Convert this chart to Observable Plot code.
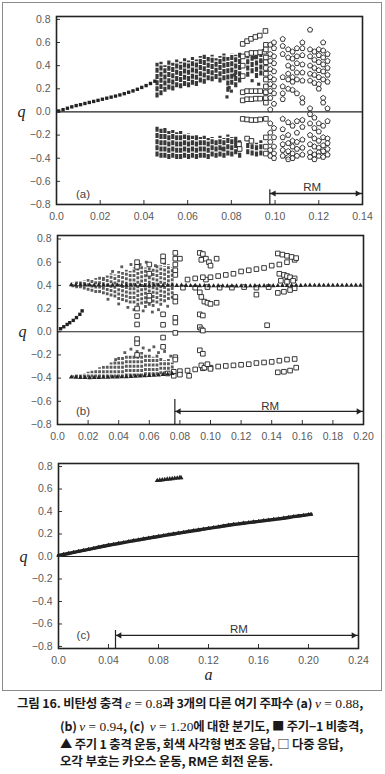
<!DOCTYPE html>
<html><head><meta charset="utf-8">
<script src="https://cdn.jsdelivr.net/npm/d3@7"></script>
<script src="https://cdn.jsdelivr.net/npm/@observablehq/plot@0.6"></script>
<style>
body{margin:0;background:#fff;}
#wrap{position:relative;width:385px;height:774px;overflow:hidden;}
#box{position:absolute;left:2px;top:2px;width:378px;height:687px;border:1px solid #8a8a8a;z-index:3;}
.panel{position:absolute;left:0;}
#cap{position:absolute;left:0;top:0;width:385px;font-family:"Noto Sans CJK KR",sans-serif;font-weight:700;font-size:12px;color:#1a1a1a;letter-spacing:-0.2px;}
#cap div{position:absolute;white-space:nowrap;line-height:16px;transform-origin:0 50%;}
#cap .m{font-family:"Liberation Serif","DejaVu Serif",serif;font-weight:400;letter-spacing:0;font-size:13px;}
</style></head><body>
<div id="wrap">
<div id="pa" class="panel" style="top:0px"></div>
<div id="pb" class="panel" style="top:225px"></div>
<div id="pc" class="panel" style="top:452px"></div>
<div id="box"></div>
<div id="cap">
<div class="cl" style="left:17px;top:695px">그림 16. 비탄성 충격 <span class="m"><i>e</i> = 0.8</span>과 3개의 다른 여기 주파수 (a) <span class="m"><i>ν</i> = 0.88</span>,</div>
<div class="cl" style="left:60px;top:718px">(b) <span class="m"><i>ν</i> = 0.94</span>, (c) &nbsp;<span class="m"><i>ν</i> = 1.20</span>에 대한 분기도, ■ 주기−1 비충격,</div>
<div class="cl" style="left:60px;top:735.5px">▲ 주기 1 충격 운동, 회색 사각형 변조 응답, □ 다중 응답,</div>
<div class="cl" style="left:60px;top:753px">오각 부호는 카오스 운동, RM은 회전 운동.</div>
</div>
</div>
<script>
// ---------- tick labels ----------
const yTicks = [-0.8,-0.6,-0.4,-0.2,0,0.2,0.4,0.6,0.8];
const yLab = ["−0.8","−0.6","−0.4","−0.2","0.0","0.2","0.4","0.6","0.8"];
const xTicksA = [0,0.02,0.04,0.06,0.08,0.10,0.12,0.14];
const xLabA = ["0.0","0.02","0.04","0.06","0.08","0.10","0.12","0.14"];
const xTicksB = [0,0.02,0.04,0.06,0.08,0.10,0.12,0.14,0.16,0.18,0.20];
const xLabB = ["0.0","0.02","0.04","0.06","0.08","0.10","0.12","0.14","0.16","0.18","0.20"];
const xTicksC = [0,0.04,0.08,0.12,0.16,0.20,0.24];
const xLabC = ["0.0","0.04","0.08","0.12","0.16","0.20","0.24"];

// ---------- panel (a), nu = 0.88 ----------
const nonImpactA = [[0.001,0.008],[0.003,0.020],[0.005,0.032],[0.007,0.044],[0.009,0.055],[0.011,0.063],[0.013,0.073],[0.015,0.082],[0.017,0.091],[0.019,0.100],[0.021,0.110],[0.023,0.119],[0.025,0.128],[0.027,0.137],[0.029,0.147],[0.031,0.158],[0.033,0.170],[0.035,0.182],[0.037,0.196],[0.039,0.212],[0.041,0.228],[0.043,0.246],[0.045,0.266]];
const modA_a = [0.0460,0.0478,0.0496,0.0514,0.0532,0.0550,0.0568,0.0586,0.0604,0.0622,0.0640,0.0658,0.0676,0.0694,0.0712,0.0730,0.0748,0.0766,0.0784,0.0802,0.0820,0.0838,0.0875,0.0895,0.0915,0.0935];
const modA_posHi = [0.42,0.43,0.40,0.44,0.42,0.45,0.43,0.46,0.44,0.47,0.45,0.48,0.49,0.47,0.49,0.46,0.48,0.50,0.47,0.50,0.49,0.51,0.47,0.50,0.49,0.50];
const modA_posLo = [0.12,0.14,0.17,0.19,0.18,0.21,0.20,0.22,0.21,0.23,0.22,0.25,0.24,0.27,0.26,0.28,0.25,0.27,0.17,0.23,0.21,0.25,0.30,0.33,0.29,0.31];
const modA_negHi = [-0.13,-0.15,-0.14,-0.17,-0.16,-0.18,-0.17,-0.20,-0.19,-0.21,-0.20,-0.22,-0.21,-0.23,-0.22,-0.24,-0.21,-0.23,-0.20,-0.22,-0.21,-0.24,-0.26,-0.24,-0.27,-0.25];
const modA_negLo = [-0.39,-0.40,-0.40,-0.41,-0.40,-0.41,-0.41,-0.40,-0.41,-0.40,-0.41,-0.40,-0.40,-0.41,-0.39,-0.40,-0.39,-0.40,-0.38,-0.39,-0.37,-0.40,-0.37,-0.38,-0.39,-0.38];
const modA_dots = [[0.0800,0.18],[0.0790,0.21],[0.0815,0.32],[0.0780,0.13],[0.0820,-0.26],[0.0760,-0.32],[0.0895,0.27],[0.0925,0.24],[0.0905,0.47],[0.0935,0.44]];
const multA = [[0.0852,0.588],[0.0872,0.612],[0.0890,0.632],[0.0910,0.648],[0.0930,0.660],[0.0956,0.700],
[0.0872,0.500],[0.0892,0.510],[0.0912,0.510],[0.0932,0.515],[0.0952,0.520],
[0.0958,0.580],[0.0958,0.540],[0.0958,0.470],[0.0958,0.430],[0.0958,0.380],[0.0958,0.330],[0.0958,0.280],[0.0958,0.220],[0.0958,0.170],[0.0958,0.120],[0.0958,0.080],
[0.0852,0.480],[0.0852,0.400],[0.0852,0.310],
[0.0852,0.170],[0.0872,0.180],[0.0892,0.180],[0.0912,0.180],[0.0932,0.180],
[0.0852,0.100],[0.0872,0.110],[0.0892,0.110],[0.0912,0.115],[0.0932,0.115],
[0.0852,-0.060],[0.0872,-0.065],[0.0892,-0.070],[0.0912,-0.070],[0.0932,-0.065],[0.0958,-0.060],
[0.0835,-0.280],[0.0838,-0.320],[0.0872,-0.230],[0.0892,-0.250],[0.0958,-0.220],[0.0958,-0.300],[0.0958,-0.360]];
const chaosA_a = [0.0978,0.0995,0.1035,0.1060,0.1080,0.1100,0.1125,0.1160,0.1180,0.1200,0.1220,0.1240];
const chaosA_q = [
[0.02,0.58,0.50,0.44,0.37,0.30,0.24,0.18,0.12,-0.10,-0.18,-0.26,-0.33,-0.38],
[0.60,0.55,0.48,0.42,0.35,0.28,0.22,0.16,0.07,-0.14,-0.22,-0.30,-0.36,-0.40],
[0.63,0.57,0.50,0.30,0.22,0.16,0.11,-0.06,-0.15,-0.22,-0.28,-0.33,-0.38],
[0.54,0.47,0.40,0.33,0.28,0.20,-0.09,-0.20,-0.27,-0.34,-0.39,-0.41],
[0.52,0.46,0.38,0.30,0.26,0.19,-0.12,-0.25,-0.30,-0.36,-0.40],
[0.55,0.48,0.42,0.34,0.28,0.16,-0.08,-0.18,-0.26,-0.32,-0.38],
[0.60,0.55,0.49,0.41,0.34,0.27,0.12,0.08,-0.07,-0.13,-0.24,-0.31,-0.37],
[0.71,0.54,0.48,0.40,0.33,0.27,0.03,-0.02,-0.10,-0.20,-0.28,-0.35,-0.39],
[0.52,0.45,0.38,0.32,0.25,-0.05,-0.14,-0.23,-0.30,-0.37,-0.41],
[0.54,0.49,0.43,0.36,0.30,0.24,0.20,-0.10,-0.17,-0.25,-0.31,-0.35,-0.38],
[0.60,0.53,0.47,0.41,0.35,0.28,0.12,0.08,-0.12,-0.22,-0.29,-0.34,-0.39],
[0.50,0.44,0.38,0.32,0.26,0.03,-0.08,-0.23,-0.27,-0.32,-0.37]];

// ---------- panel (b), nu = 0.94 ----------
const nonImpactB = [[0.0020,0.026],[0.0041,0.043],[0.0063,0.063],[0.0080,0.078],[0.0103,0.098],[0.0124,0.122],[0.0146,0.150],[0.0161,0.180]];
const impactB = [[0.009,0.404],[0.012,0.403],[0.015,0.404],[0.018,0.402],[0.021,0.403],[0.024,0.401],[0.027,0.402],[0.030,0.400],[0.033,0.401],[0.036,0.400],[0.039,0.402],[0.042,0.399],[0.045,0.401],[0.048,0.400],[0.051,0.399],[0.054,0.401],[0.057,0.398],[0.060,0.400],[0.063,0.399],[0.066,0.401],[0.069,0.398],[0.072,0.400],[0.075,0.399],[0.078,0.398],[0.081,0.400],[0.084,0.398],[0.087,0.397],[0.090,0.398],[0.093,0.396],[0.096,0.397],[0.099,0.396],[0.102,0.395],[0.105,0.396],[0.108,0.395],[0.111,0.394],[0.114,0.395],[0.117,0.394],[0.120,0.395],[0.123,0.394],[0.126,0.395],[0.129,0.396],[0.132,0.395],[0.135,0.396],[0.138,0.397],[0.141,0.396],[0.144,0.397],[0.147,0.398],[0.150,0.397],[0.153,0.398],[0.156,0.399],[0.159,0.398],[0.162,0.399],[0.165,0.400],[0.168,0.399],[0.171,0.400],[0.174,0.399],[0.177,0.400],[0.180,0.399],[0.183,0.400],[0.186,0.399],[0.189,0.400],[0.192,0.399],[0.195,0.400],[0.198,0.399],
[0.009,-0.392],[0.012,-0.393],[0.015,-0.395],[0.018,-0.396],[0.021,-0.397],[0.024,-0.396],[0.027,-0.395],[0.030,-0.394],[0.033,-0.393],[0.036,-0.392],[0.039,-0.391],[0.042,-0.390],[0.045,-0.388],[0.048,-0.387],[0.051,-0.385],[0.054,-0.383],[0.057,-0.381],[0.060,-0.378],[0.063,-0.376],[0.066,-0.373],[0.069,-0.370],[0.072,-0.366],[0.075,-0.362]];
const modB_a = [0.0100,0.0125,0.0150,0.0175,0.0200,0.0225,0.0250,0.0275,0.0300,0.0325,0.0350,0.0375,0.0400,0.0425,0.0450,0.0475,0.0500,0.0525,0.0550,0.0575,0.0600,0.0625,0.0650,0.0675,0.0700,0.0725,0.0750];
const modB_upHi = [0.42,0.43,0.43,0.44,0.45,0.45,0.46,0.47,0.47,0.48,0.50,0.49,0.52,0.51,0.53,0.52,0.55,0.54,0.56,0.55,0.57,0.55,0.58,0.57,0.56,0.58,0.55];
const modB_upLo = [0.38,0.37,0.37,0.36,0.35,0.34,0.33,0.33,0.32,0.31,0.30,0.29,0.27,0.26,0.25,0.24,0.24,0.22,0.23,0.20,0.22,0.21,0.24,0.22,0.25,0.27,0.28];
const modB_lowHi = [-0.38,-0.37,-0.37,-0.36,-0.35,-0.34,-0.33,-0.31,-0.30,-0.29,-0.27,-0.25,-0.22,-0.22,-0.21,-0.20,-0.21,-0.19,-0.18,-0.19,-0.20,-0.22,-0.20,-0.23,-0.25,-0.24,-0.27];
const modB_lowLo = [-0.40,-0.40,-0.40,-0.40,-0.40,-0.40,-0.40,-0.40,-0.40,-0.40,-0.40,-0.40,-0.40,-0.40,-0.39,-0.39,-0.39,-0.39,-0.39,-0.38,-0.38,-0.38,-0.38,-0.37,-0.37,-0.37,-0.36];
const modB_dots = [[0.030,0.46],[0.033,0.28],[0.036,0.52],[0.040,0.24],[0.042,0.56],[0.046,0.21],[0.048,0.58],[0.050,0.19],[0.054,0.58],[0.056,0.18],[0.058,0.60],[0.062,0.17],[0.064,0.57],[0.066,0.19],[0.070,0.59],[0.072,0.22],[0.044,-0.18],[0.048,-0.15],[0.052,-0.17],[0.056,-0.14],[0.060,-0.16],[0.063,-0.13],[0.066,-0.18],[0.070,-0.17],[0.074,-0.21],[0.038,-0.24]];
const multB = [[0.052,0.60],[0.052,0.56],[0.052,0.20],[0.052,0.135],[0.052,0.063],[0.052,-0.063],[0.052,-0.10],[0.052,-0.20],
[0.060,0.58],[0.060,0.50],[0.060,0.31],[0.060,0.27],
[0.069,0.65],[0.069,0.61],[0.069,0.15],[0.069,0.06],[0.069,-0.05],[0.069,-0.13],
[0.077,0.68],[0.077,0.63],[0.077,0.58],[0.077,0.53],[0.077,0.49],[0.077,0.30],[0.077,0.26],[0.077,0.12],[0.077,0.08],[0.077,-0.01],[0.077,-0.22],[0.077,-0.24],[0.080,0.63],
[0.093,0.68],[0.095,0.67],[0.094,0.62],[0.097,0.63],[0.099,0.60],[0.100,0.57],[0.097,0.45],[0.093,0.34],[0.094,0.30],[0.096,0.26],[0.098,0.25],[0.100,0.24],[0.104,0.25],[0.093,0.15],[0.095,0.14],[0.093,0.04],[0.094,0.02],[0.095,0.01],[0.093,-0.16],[0.095,-0.19],[0.104,0.63],
[0.130,0.32],[0.137,0.056],
[0.085,0.45],[0.090,0.46],[0.095,0.47],[0.100,0.47],[0.105,0.48],[0.110,0.49],[0.115,0.50],[0.120,0.52],[0.125,0.53],[0.130,0.54],[0.135,0.55],[0.140,0.57],[0.145,0.58],[0.150,0.60],[0.155,0.62],
[0.144,0.675],[0.147,0.665],[0.150,0.655],[0.153,0.645],[0.156,0.635],
[0.145,0.50],[0.148,0.49],[0.150,0.48],[0.152,0.47],[0.155,0.46],[0.146,0.44],[0.150,0.43],[0.154,0.44],
[0.144,0.335],[0.148,0.345],[0.152,0.36],[0.155,0.375],
[0.082,0.38],[0.090,0.38],[0.098,0.385],[0.106,0.38],[0.114,0.38],[0.122,0.385],[0.130,0.38],[0.138,0.385],
[0.076,-0.345],[0.080,-0.34],[0.085,-0.335],[0.090,-0.325],[0.095,-0.315],[0.100,-0.31],[0.105,-0.30],[0.110,-0.295],[0.115,-0.29],[0.120,-0.285],[0.125,-0.28],[0.130,-0.27],[0.135,-0.265],[0.140,-0.26],[0.145,-0.25],[0.150,-0.24],[0.155,-0.235],
[0.144,-0.35],[0.148,-0.345],[0.152,-0.335],[0.156,-0.31],
[0.094,-0.29],[0.096,-0.31],[0.098,-0.28],[0.100,-0.32],
[0.086,-0.38],[0.080,-0.37],[0.076,-0.38],[0.072,-0.36]];

// ---------- panel (c), nu = 1.20 ----------
const impactC = [[0.000,0.010],[0.004,0.018],[0.008,0.027],[0.012,0.036],[0.016,0.045],[0.020,0.055],[0.024,0.064],[0.028,0.073],[0.032,0.082],[0.036,0.091],[0.040,0.100],[0.044,0.108],[0.048,0.116],[0.052,0.124],[0.056,0.132],[0.060,0.140],[0.064,0.148],[0.068,0.156],[0.072,0.163],[0.076,0.171],[0.080,0.178],[0.084,0.186],[0.088,0.193],[0.092,0.200],[0.096,0.208],[0.100,0.215],[0.104,0.222],[0.108,0.229],[0.112,0.236],[0.116,0.243],[0.120,0.250],[0.124,0.257],[0.128,0.264],[0.132,0.271],[0.136,0.278],[0.140,0.285],[0.144,0.290],[0.148,0.296],[0.152,0.301],[0.156,0.307],[0.160,0.312],[0.164,0.318],[0.168,0.324],[0.172,0.329],[0.176,0.335],[0.180,0.340],[0.184,0.347],[0.188,0.354],[0.192,0.360],[0.196,0.366],[0.200,0.372],[0.202,0.375]];
const impactC2 = [[0.079,0.675],[0.081,0.678],[0.083,0.681],[0.085,0.684],[0.087,0.687],[0.089,0.690],[0.091,0.692],[0.093,0.695],[0.095,0.697],[0.097,0.700],[0.098,0.701]];

// ---------- RM (rotational motion) ranges and labels ----------
const rmStart = [0.0976, 0.0767, 0.0456];
const rmEnd = [0.14, 0.20, 0.24];
const rmTop = [-0.672, -0.585, -0.658];
const rmArrow = [-0.705, -0.687, -0.702];
const rmLabelA = [0.117, 0.139, 0.1443];
const rmLabelQ = [-0.652, -0.643, -0.643];
const panelNames = ["(a)", "(b)", "(c)"];
const panelNameA = [0.0121, 0.0167, 0.0198];
const panelNameQ = [-0.709, -0.690, -0.705];

// ---------- helpers ----------
const pentagon = {
  draw(ctx, size) {
    const r = Math.sqrt(size / Math.PI) * 1.1;
    for (let i = 0; i < 5; i++) {
      const t = -Math.PI / 2 + i * 2 * Math.PI / 5;
      const x = r * Math.cos(t), y = r * Math.sin(t);
      if (i) ctx.lineTo(x, y); else ctx.moveTo(x, y);
    }
    ctx.closePath();
  }
};
const cols = (a, lo, hi) => a.map((v, i) => ({a: v, lo: lo[i], hi: hi[i]}));
const pts = (arr) => arr.map(([a, q]) => ({a, q}));

function panel(o, k) {
  const rm = [{start: rmStart[k], end: rmEnd[k], top: rmTop[k], arrow: rmArrow[k], la: rmLabelA[k], lq: rmLabelQ[k]}];
  const yMin = o.yDomain[0];
  return Plot.plot({
    width: 385, height: o.height,
    marginLeft: o.ml, marginRight: o.mr, marginTop: o.mt, marginBottom: o.mb,
    x: {domain: o.xDomain}, y: {domain: o.yDomain},
    style: {fontFamily: "Liberation Sans, Arial, sans-serif", fontSize: "10.5px", color: "#5a5a5a", background: "transparent"},
    marks: [
      Plot.ruleY([0], {stroke: "#222", strokeWidth: 1.2}),
      ...o.marks,
      Plot.ruleX(rm, {x: "start", y1: yMin, y2: "top", stroke: "#222", strokeWidth: 1.2}),
      Plot.link(rm, {x1: "start", x2: "end", y1: "arrow", y2: "arrow", stroke: "#222", strokeWidth: 1.3}),
      Plot.dot(rm, {x: "start", y: "arrow", symbol: "triangle", rotate: -90, dx: 4, r: 2.3, fill: "#222"}),
      Plot.dot(rm, {x: "end", y: "arrow", symbol: "triangle", rotate: 90, dx: -5, r: 2.3, fill: "#222"}),
      Plot.text(rm, {x: "la", y: "lq", text: () => "RM", fill: "#333", fontSize: 11.5}),
      Plot.text([k], {x: d => panelNameA[d], y: d => panelNameQ[d], text: d => panelNames[d], fill: "#444", fontSize: 11.5}),
      Plot.text([0], {y: d => d, frameAnchor: "left", dx: -39, text: () => "q", fill: "#222", fontSize: 16, fontStyle: "italic", fontFamily: "Liberation Serif, DejaVu Serif, serif"}),
      ...(o.xLabel ? [Plot.text([o.xLabel], {x: (o.xDomain[0] + o.xDomain[1]) / 2, frameAnchor: "bottom", lineAnchor: "middle", dy: 26, text: d => d, fill: "#222", fontSize: 16, fontStyle: "italic", fontFamily: "Liberation Serif, DejaVu Serif, serif"})] : []),
      Plot.axisX(o.xTicks, {tickSize: 4, dy: -4, tickFormat: () => "", stroke: "#333", label: null}),
      Plot.axisY(yTicks, {tickSize: 4, dx: 4, tickFormat: () => "", stroke: "#333", label: null}),
      Plot.axisX(o.xTicks, {tickSize: 0, tickPadding: 8, tickFormat: d => o.xLab[o.xTicks.indexOf(d)], label: null}),
      Plot.axisY(yTicks, {tickSize: 0, tickPadding: 6, tickFormat: d => yLab[yTicks.indexOf(d)], label: null}),
      Plot.frame({stroke: "#222", strokeWidth: 1.6})
    ]
  });
}

// ---------- panel (a) ----------
const chaosPtsA = chaosA_a.flatMap((a, i) => chaosA_q[i].map(q => ({a, q})));
document.getElementById("pa").append(panel({
  height: 230, ml: 56, mr: 23, mt: 16, mb: 26,
  xDomain: [0, 0.14], yDomain: [-0.8, 0.825], xTicks: xTicksA, xLab: xLabA,
  marks: [
    Plot.ruleX(cols(modA_a, modA_posLo, modA_posHi), {x: "a", y1: "lo", y2: "hi", stroke: "#383838", strokeWidth: 3.2, strokeDasharray: "5,1.2"}),
    Plot.ruleX(cols(modA_a, modA_negLo, modA_negHi), {x: "a", y1: "lo", y2: "hi", stroke: "#383838", strokeWidth: 3.2, strokeDasharray: "5,1.2"}),
    Plot.dot(pts(modA_dots), {x: "a", y: "q", symbol: "square", r: 1.8, fill: "#3a3a3a"}),
    Plot.dot(pts(nonImpactA), {x: "a", y: "q", symbol: "square", r: 1.9, fill: "#222"}),
    Plot.dot(pts(multA), {x: "a", y: "q", symbol: "square", r: 2.6, fill: "white", stroke: "#222", strokeWidth: 0.9}),
    Plot.dot(chaosPtsA, {x: "a", y: "q", symbol: pentagon, r: 2.5, fill: "white", fillOpacity: 0.6, stroke: "#222", strokeWidth: 0.9})
  ]
}, 0));

// ---------- panel (b) ----------
document.getElementById("pb").append(panel({
  height: 230, ml: 57, mr: 22, mt: 10, mb: 31,
  xDomain: [0, 0.20], yDomain: [-0.8, 0.83], xTicks: xTicksB, xLab: xLabB,
  marks: [
    Plot.ruleX(cols(modB_a, modB_upLo, modB_upHi), {x: "a", y1: "lo", y2: "hi", stroke: "#5c5c5c", strokeWidth: 2.8, strokeDasharray: "3,1.4"}),
    Plot.ruleX(cols(modB_a, modB_lowLo, modB_lowHi), {x: "a", y1: "lo", y2: "hi", stroke: "#5c5c5c", strokeWidth: 2.8, strokeDasharray: "3,1.4"}),
    Plot.dot(pts(modB_dots), {x: "a", y: "q", symbol: "square", r: 1.6, fill: "#5c5c5c"}),
    Plot.dot(pts(multB), {x: "a", y: "q", symbol: "square", r: 2.6, fill: "white", stroke: "#222", strokeWidth: 0.9}),
    Plot.dot(pts(impactB), {x: "a", y: "q", symbol: "triangle", r: 1.8, fill: "#222"}),
    Plot.dot(pts(nonImpactB), {x: "a", y: "q", symbol: "square", r: 1.9, fill: "#222"})
  ]
}, 1));

// ---------- panel (c) ----------
document.getElementById("pc").append(panel({
  height: 240, ml: 58, mr: 27, mt: 11, mb: 44,
  xDomain: [0, 0.24], yDomain: [-0.818, 0.827], xTicks: xTicksC, xLab: xLabC, xLabel: "a",
  marks: [
    Plot.line(pts(impactC), {x: "a", y: "q", stroke: "#222", strokeWidth: 3.4}),
    Plot.dot(pts(impactC), {x: "a", y: "q", symbol: "triangle", r: 1.7, fill: "#222"}),
    Plot.dot(pts(impactC2), {x: "a", y: "q", symbol: "triangle", r: 1.9, fill: "#222"})
  ]
}, 2));

// ---------- caption line widths (match the reference's line lengths) ----------
const capWidths = [346, 303, 283, 213];
document.querySelectorAll("#cap .cl").forEach((el, i) => {
  const w = el.getBoundingClientRect().width;
  if (w > 0) el.style.transform = `scaleX(${capWidths[i] / w})`;
});
</script>
</body></html>
